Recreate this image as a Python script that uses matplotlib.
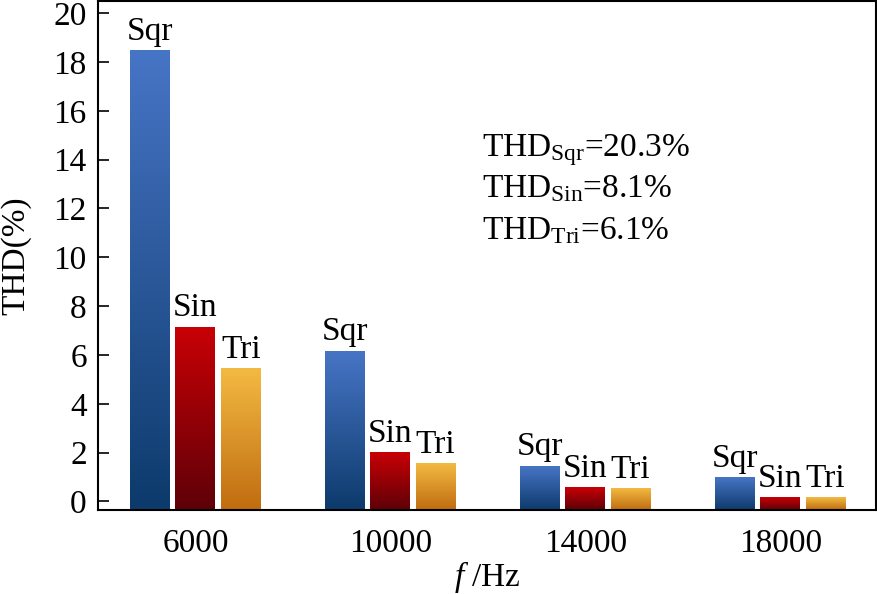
import numpy as np
import matplotlib
matplotlib.use("Agg")
import matplotlib.pyplot as plt
from matplotlib.colors import LinearSegmentedColormap

plt.rcParams['font.family'] = ['Liberation Serif', 'DejaVu Serif']
plt.rcParams['mathtext.fontset'] = 'custom'
plt.rcParams['mathtext.rm'] = 'Liberation Serif'
plt.rcParams['mathtext.it'] = 'Liberation Serif:italic'

freqs = ['6000', '10000', '14000', '18000']
series = ['Sqr', 'Sin', 'Tri']
sqr = [18.45, 6.16, 1.45, 0.98]
sin = [7.14, 2.0, 0.58, 0.17]
tri = [5.43, 1.55, 0.53, 0.17]
thd_notes = ['THD$_{\\mathrm{Sqr}}$=20.3%', 'THD$_{\\mathrm{Sin}}$=8.1%', 'THD$_{\\mathrm{Tri}}$=6.1%']

# top colour -> bottom colour for each series
grads = [('#4775C6', '#0D3A6B'), ('#C80005', '#5E0008'), ('#F3BA42', '#C06C10')]

YMIN, YMAX = -0.35, 20.5
FS = 24

fig = plt.figure(figsize=(8.78, 5.94), dpi=100)
ax = fig.add_axes([0.1116, 0.1414, 0.886, 0.857])

x = np.arange(len(freqs))
width = 0.205
offsets = [-0.232, 0.0, 0.232]
grad = np.linspace(1, 0, 256).reshape(-1, 1)

for vals, name, off, (ctop, cbot) in zip([sqr, sin, tri], series, offsets, grads):
    cmap = LinearSegmentedColormap.from_list(name, [cbot, ctop])
    for xi, v in zip(x, vals):
        x0 = xi + off - width / 2
        ax.imshow(grad, extent=(x0, x0 + width, YMIN, v), aspect='auto',
                  cmap=cmap, vmin=0, vmax=1, zorder=2, interpolation='bilinear')
        ax.text(xi + off, v + 0.15, name, ha='center', va='bottom', fontsize=FS)

ax.set_xlim(-0.5, 3.49)
ax.set_ylim(YMIN, YMAX)
ax.set_xticks(x)
ax.set_xticklabels(freqs, fontsize=FS)
ax.set_yticks(np.arange(0, 21, 2))
ax.tick_params(axis='y', direction='in', length=8, width=1.2, pad=8, labelsize=FS)
ax.tick_params(axis='x', length=0, pad=13, labelsize=FS)
for s in ax.spines.values():
    s.set_linewidth(1.5)

ax.set_ylabel('THD(%)', fontsize=FS, labelpad=16)
ax.set_xlabel('$f$ /Hz', fontsize=FS, labelpad=0)

for i, t in enumerate(thd_notes):
    ax.text(1.47, 14.16 - i * 1.7, t, fontsize=FS, ha='left', va='baseline')

fig.savefig('out.png', dpi=100)
